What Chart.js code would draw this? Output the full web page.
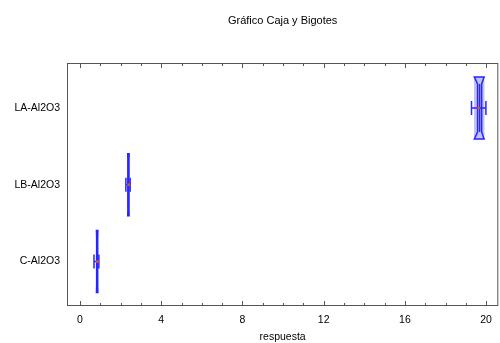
<!DOCTYPE html>
<html>
<head>
<meta charset="utf-8">
<script src="https://cdn.jsdelivr.net/npm/chart.js@4"></script>
<style>
  html, body { margin: 0; background: #fff; }
</style>
</head>
<body>
<canvas id="boxChart" width="500" height="343"></canvas>
<script>
// groups, bottom to top
const groups = ['C-Al2O3', 'LB-Al2O3', 'LA-Al2O3'];
// box plot statistics
const whiskLo = [0.69, 2.26, 19.28];
const q1      = [0.81, 2.35, 19.42];
const notchLo = [0.82, 2.36, 19.58];
const median  = [0.84, 2.38, 19.68];
const notchHi = [0.87, 2.41, 19.78];
const q3      = [0.88, 2.42, 19.90];
const whiskHi = [0.93, 2.47, 19.99];
const means   = [0.86, 2.40, 19.63];
// x axis ticks
const xTicks = [0, 1, 2, 3, 4, 5, 6, 7, 8, 9, 10, 11, 12, 13, 14, 15, 16, 17, 18, 19, 20];
const xLabels = [0, 4, 8, 12, 16, 20];

const font = { family: '"Liberation Sans", Arial, sans-serif', size: 10.5 };
const blue = '#2626ff';

// draws frame, inward ticks, notched outlines, whiskers and means
const boxPlugin = {
  id: 'boxPlugin',
  afterDatasetsDraw(chart) {
    const { ctx, chartArea: a, scales: { x, y } } = chart;
    ctx.save();

    // frame
    ctx.strokeStyle = '#555';
    ctx.lineWidth = 1;
    ctx.strokeRect(a.left + 0.5, a.top + 0.5, a.width - 1, a.height - 1);

    // ticks on top and bottom, pointing inward
    xTicks.forEach(v => {
      const px = Math.round(x.getPixelForValue(v)) + 0.5;
      const len = xLabels.includes(v) ? 5 : 3;
      ctx.beginPath();
      ctx.moveTo(px, a.bottom);
      ctx.lineTo(px, a.bottom - len);
      ctx.moveTo(px, a.top);
      ctx.lineTo(px, a.top + len);
      ctx.stroke();
    });

    const half = 31, notch = 7, cap = 7;
    groups.forEach((g, i) => {
      const cy = y.getPixelForValue(i);
      const top = cy - half, bot = cy + half;
      const X = v => x.getPixelForValue(v);

      // notched box outline
      ctx.strokeStyle = blue;
      ctx.lineWidth = 1.5;
      ctx.beginPath();
      ctx.moveTo(X(q1[i]), top);
      ctx.lineTo(X(q3[i]), top);
      ctx.lineTo(X(notchHi[i]), top + notch);
      ctx.lineTo(X(notchHi[i]), bot - notch);
      ctx.lineTo(X(q3[i]), bot);
      ctx.lineTo(X(q1[i]), bot);
      ctx.lineTo(X(notchLo[i]), bot - notch);
      ctx.lineTo(X(notchLo[i]), top + notch);
      ctx.closePath();
      ctx.stroke();

      // median
      ctx.beginPath();
      ctx.moveTo(X(median[i]), top + notch);
      ctx.lineTo(X(median[i]), bot - notch);
      ctx.stroke();

      // whiskers and caps
      ctx.beginPath();
      ctx.moveTo(X(whiskLo[i]), cy);
      ctx.lineTo(X(whiskHi[i]), cy);
      ctx.moveTo(X(whiskLo[i]), cy - cap);
      ctx.lineTo(X(whiskLo[i]), cy + cap);
      ctx.moveTo(X(whiskHi[i]), cy - cap);
      ctx.lineTo(X(whiskHi[i]), cy + cap);
      ctx.stroke();

      // mean
      ctx.fillStyle = '#d8502a';
      ctx.beginPath();
      ctx.arc(X(means[i]), cy, 1.6, 0, Math.PI * 2);
      ctx.fill();
    });
    ctx.restore();
  }
};

new Chart(document.getElementById('boxChart'), {
  type: 'bar',
  data: {
    datasets: [{
      data: groups.map((g, i) => ({ y: i, x: [q1[i], q3[i]] })),
      backgroundColor: 'rgba(120,120,255,0.45)',
      borderWidth: 0,
      barThickness: 62
    }]
  },
  options: {
    indexAxis: 'y',
    responsive: false,
    animation: false,
    devicePixelRatio: 1,
    layout: { padding: { left: 0, right: 1, top: 0, bottom: 0 } },
    plugins: {
      legend: { display: false },
      tooltip: { enabled: false },
      title: {
        display: true,
        text: 'Gráfico Caja y Bigotes',
        fullSize: false,
        color: '#000',
        font: { family: font.family, size: 11, weight: 'normal' },
        padding: { top: 14, bottom: 35.8 }
      }
    },
    scales: {
      x: {
        type: 'linear',
        position: 'bottom',
        min: -0.64,
        max: 20.6,
        afterBuildTicks: s => { s.ticks = xTicks.map(v => ({ value: v })); },
        afterFit: s => { s.height = 37; },
        grid: { display: false, drawTicks: false },
        border: { display: false },
        ticks: {
          autoSkip: false,
          maxRotation: 0,
          padding: 8,
          color: '#000',
          font: font,
          callback: v => xLabels.includes(v) ? String(v) : ''
        },
        title: { display: true, text: 'respuesta', color: '#000', font: font, padding: 0 }
      },
      y: {
        type: 'linear',
        offset: false,
        min: -0.58,
        max: 2.586,
        afterBuildTicks: s => { s.ticks = groups.map((g, i) => ({ value: i })); },
        afterFit: s => { s.width = 67; },
        grid: { display: false, drawTicks: false },
        border: { display: false },
        ticks: {
          padding: 7,
          color: '#000',
          font: font,
          callback: v => groups[v]
        }
      }
    }
  },
  plugins: [boxPlugin]
});
</script>
</body>
</html>
